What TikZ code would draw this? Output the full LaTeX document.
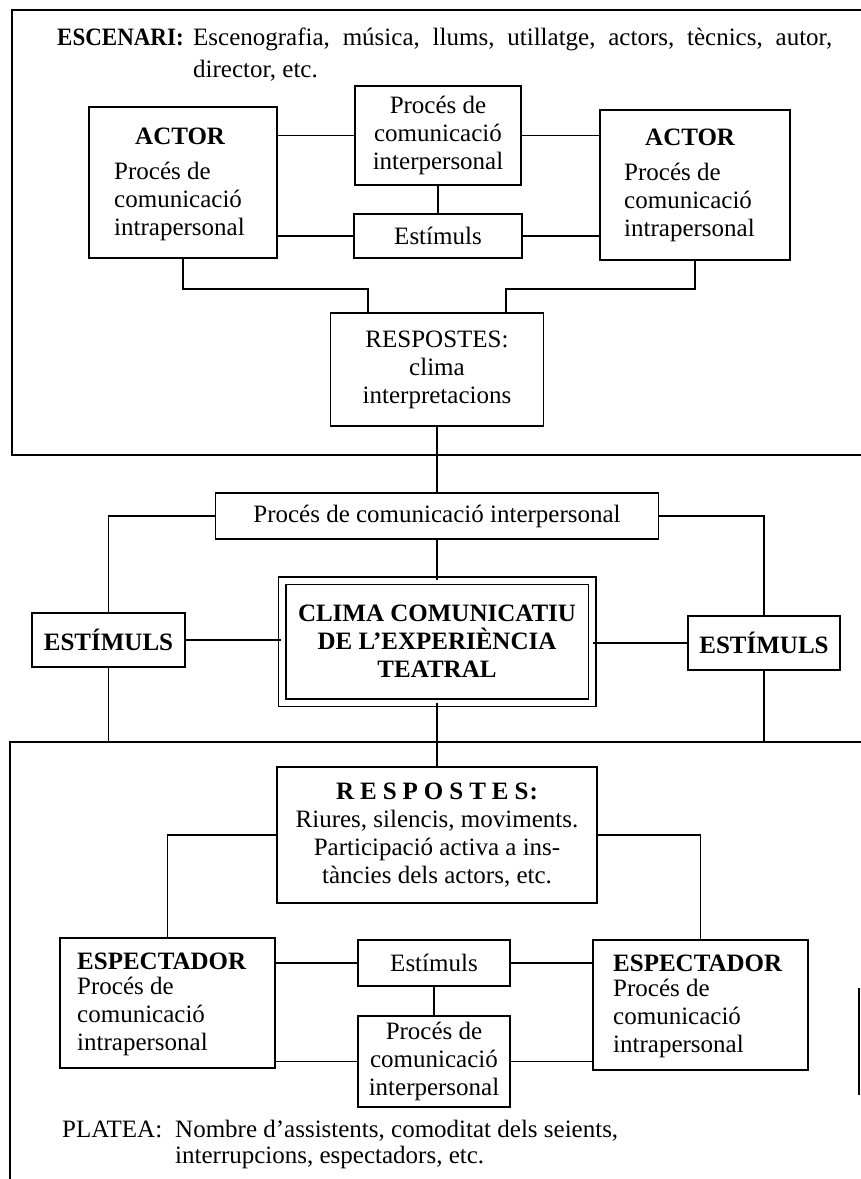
\documentclass[tikz,border=0pt]{standalone}
\usepackage{fontspec}
\setmainfont{Liberation Serif}
\begin{document}
\begin{tikzpicture}[x=1pt,y=1pt,
 box/.style={draw, line width=1.6pt, inner sep=0pt, align=center, font=\fontsize{25}{28}\selectfont},
 dblbox/.style={draw, double, double distance=6pt, line width=1.5pt, inner sep=0pt, align=center, font=\fontsize{25}{28}\selectfont\bfseries},
 txt/.style={inner sep=0pt, font=\fontsize{25}{28}\selectfont},
 conn/.style={line width=1.4pt},
 frame/.style={line width=1.6pt}]
\useasboundingbox (0,0) rectangle (861,-1179);

% frames
\draw[frame] (861,-10) -- (12,-10) -- (12,-455) -- (861,-455);
\draw[frame] (861,-742) -- (10,-742) -- (10,-1179);
\draw[frame] (859,-988) -- (859,-1095);

% top text
\node[txt, anchor=base west] (escA) at (57,-45) {\scalebox{0.92}[1]{\textbf{ESCENARI:}}};
\node[txt, anchor=base west] (escB) at (193,-45) {\makebox[639pt][s]{Escenografia, música, llums, utillatge, actors, tècnics, autor,}};
\node[txt, anchor=base west] (escC) at (193,-77) {director, etc.};

% top boxes
\node[box, minimum width=166pt, minimum height=99pt] (ctop) at (438,-135.5) {Procés de\\comunicació\\interpersonal};
\node[box, minimum width=168pt, minimum height=44pt] (est) at (438,-236) {Estímuls};
\node[box, minimum width=188pt, minimum height=151pt] (actL) at (183,-182.5) {};
\node[txt, align=left, anchor=west] (actLt) at (114,-184.5) {\hspace*{21pt}\textbf{ACTOR}\\[7pt]Procés de\\comunicació\\intrapersonal};
\node[box, minimum width=190pt, minimum height=150pt] (actR) at (695,-185) {};
\node[txt, align=left, anchor=west] (actRt) at (624,-185.5) {\hspace*{21pt}\textbf{ACTOR}\\[7pt]Procés de\\comunicació\\intrapersonal};
\node[box, minimum width=213pt, minimum height=113pt] (resp) at (437,-369.5) {RESPOSTES:\\clima\\interpretacions};

\draw[conn] (ctop.west) -- (ctop.west -| actL.east);
\draw[conn] (ctop.east) -- (ctop.east -| actR.west);
\draw[conn] (est.west) -- (est.west -| actL.east);
\draw[conn] (est.east) -- (est.east -| actR.west);
\draw[conn] (ctop.south) -- (est.north);
\draw[conn] (actL.south) -- ++(0,-30) -| ([xshift=-69pt]resp.north);
\draw[conn] (actR.south) -- ++(0,-28) -| ([xshift=69pt]resp.north);

% middle
\node[box, minimum width=443pt, minimum height=46pt] (wide) at (437,-516) {Procés de comunicació interpersonal};
\node[box, minimum width=153pt, minimum height=54pt, font=\fontsize{25}{28}\selectfont\bfseries] (estL) at (108.5,-640) {ESTÍMULS};
\node[box, minimum width=152pt, minimum height=54pt, font=\fontsize{25}{28}\selectfont\bfseries] (estR) at (764,-643) {ESTÍMULS};
\node[dblbox, minimum width=310pt, minimum height=122pt] (clima) at (437,-641.5) {CLIMA COMUNICATIU\\DE L’EXPERIÈNCIA\\TEATRAL};

\draw[conn] (resp.south) -- (wide.north);
\draw[conn] (wide.west) -| (estL.north);
\draw[conn] (wide.east) -| (estR.north);
\draw[conn] (wide.south) -- (clima.north);
\draw[conn] (estL.east) -- (estL.east -| clima.west);
\draw[conn] (estR.west) -- (estR.west -| clima.east);
\draw[conn] (estL.south) -- (estL.south |- 0,-742);
\draw[conn] (estR.south) -- (estR.south |- 0,-742);

% bottom
\node[box, minimum width=320pt, minimum height=136pt] (resp2) at (437,-835) {\textbf{R\kern6pt E\kern6pt S\kern6pt P\kern6pt O\kern6pt S\kern6pt T\kern6pt E\kern6pt S\kern1pt:}\\Riures, silencis, moviments.\\Participació activa a ins-\\tàncies dels actors, etc.};
\node[box, minimum width=215pt, minimum height=130pt] (espL) at (167.5,-1003) {};
\node[txt, align=left, anchor=west] (espLt) at (77,-1004.5) {\textbf{ESPECTADOR}\\[-3pt]Procés de\\comunicació\\intrapersonal};
\node[box, minimum width=215pt, minimum height=130pt] (espR) at (700.5,-1005) {};
\node[txt, align=left, anchor=west] (espRt) at (613,-1006) {\textbf{ESPECTADOR}\\[-3pt]Procés de\\comunicació\\intrapersonal};
\node[box, minimum width=152pt, minimum height=46pt] (est2) at (434,-963) {Estímuls};
\node[box, minimum width=152pt, minimum height=91pt] (inter2) at (434,-1061.5) {Procés de\\comunicació\\interpersonal};

\draw[conn] (clima.south) -- (resp2.north);
\draw[conn] (resp2.west) -| (espL.north);
\draw[conn] (resp2.east) -| (espR.north);
\draw[conn] (est2.west) -- (est2.west -| espL.east);
\draw[conn] (est2.east) -- (est2.east -| espR.west);
\draw[conn] (inter2.west) -- (inter2.west -| espL.east);
\draw[conn] (inter2.east) -- (inter2.east -| espR.west);
\draw[conn] (est2.south) -- (inter2.north);

\node[txt, anchor=base west] (platA) at (62,-1137) {PLATEA:};
\node[txt, anchor=base west] (platB) at (175,-1137) {Nombre d’assistents, comoditat dels seients,};
\node[txt, anchor=base west] (platC) at (175,-1163) {interrupcions, espectadors, etc.};
\end{tikzpicture}
\end{document}
